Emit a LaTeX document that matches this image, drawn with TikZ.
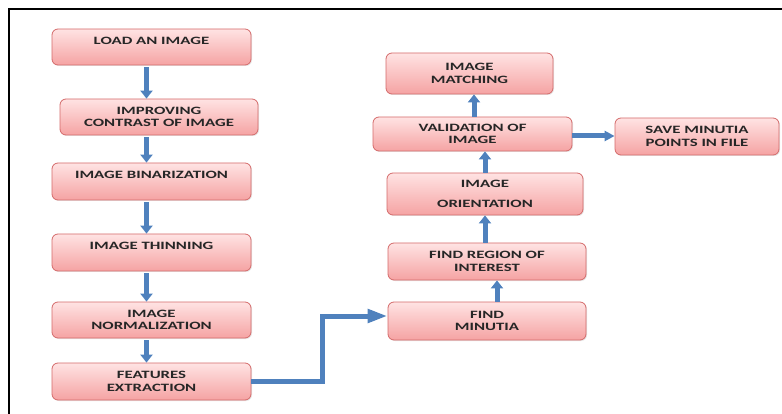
\documentclass[tikz,border=0pt]{standalone}
\usepackage{fontspec}
\newfontfamily\kastenfont[FakeStretch=1.5]{Carlito}
\usepackage{tikz}
\usetikzlibrary{arrows.meta,shadows}

\definecolor{pfeilblau}{HTML}{4F81BD}
\definecolor{kastenrand}{HTML}{D46A6A}
\definecolor{kastenoben}{HTML}{FFE3E3}
\definecolor{kastenunten}{HTML}{F5A3A3}

\tikzset{
  kasten/.style={rectangle, rounded corners=6pt, draw=kastenrand, line width=0.8pt,
    top color=kastenoben, bottom color=kastenunten, align=center,
    font=\kastenfont\bfseries\fontsize{11.2}{12.5}\selectfont, text=black!85,
    inner sep=0pt, drop shadow={opacity=0.2, shadow xshift=1pt, shadow yshift=-1pt}},
  pfeil/.style={draw=pfeilblau, line width=5pt, -{Triangle[width=12pt,length=8pt]}},
}

\begin{document}
\begin{tikzpicture}[x=1pt,y=-1pt]
\useasboundingbox (0,0) rectangle (782,414);
%Rahmen
\draw[line width=2pt] (9,414) -- (9,9) -- (782,9);

%linke Spalte
\node[kasten, minimum width=199pt, minimum height=36pt] (load)    at (151.5,47)  {LOAD AN IMAGE\\~};
\node[kasten, minimum width=198pt, minimum height=36pt] (improv)  at (159,117)   {IMPROVING\\CONTRAST OF IMAGE};
\node[kasten, minimum width=199pt, minimum height=37pt] (binar)   at (151.5,181.5) {IMAGE BINARIZATION\\~};
\node[kasten, minimum width=199pt, minimum height=37pt] (thin)    at (151.5,252.5) {IMAGE THINNING\\~};
\node[kasten, minimum width=199pt, minimum height=36pt] (norm)    at (151.5,320) {IMAGE\\NORMALIZATION};
\node[kasten, minimum width=199pt, minimum height=37pt] (feat)    at (151.5,381.5) {FEATURES\\EXTRACTION};

%rechte Spalte
\node[kasten, minimum width=167pt, minimum height=41pt] (match)   at (469.5,73.5) {IMAGE\\MATCHING};
\node[kasten, minimum width=199pt, minimum height=34pt] (valid)   at (472.5,134) {VALIDATION OF\\IMAGE};
\node[kasten, minimum width=164pt, minimum height=37pt] (save)    at (697,136.5) {SAVE MINUTIA\\POINTS IN FILE};
\node[kasten, minimum width=196pt, minimum height=42pt] (orient)  at (485,194)   {IMAGE\\[7pt]ORIENTATION};
\node[kasten, minimum width=198pt, minimum height=37pt] (region)  at (487,261.5) {FIND REGION OF\\INTEREST};
\node[kasten, minimum width=198pt, minimum height=38pt] (minutia) at (487,321)   {FIND\\MINUTIA};

\coordinate (knick) at (322,316);

%Pfeile links
\foreach \a/\b/\dx in {load/improv/-5, improv/binar/-12.5, binar/thin/-5, thin/norm/-5, norm/feat/-5}
  \draw[pfeil] ([xshift=\dx pt,yshift=-2pt]\a.south) -- ([xshift=\dx pt]\a.south |- \b.north);

\draw[draw=pfeilblau, line width=5pt, -{Triangle[width=13pt,length=20pt]}]
  (feat.east) -| (knick) -- (knick -| minutia.west);

%Pfeile rechts
\draw[pfeil] ([xshift=10pt]minutia.north) -- ([xshift=10pt]minutia.north |- region.south);
\draw[pfeil] ([xshift=-2pt]region.north) -- ([xshift=-2pt]region.north |- orient.south);
\draw[pfeil] (orient.north) -- (orient.north |- valid.south);
\draw[pfeil] ([xshift=1.5pt]valid.north) -- ([xshift=1.5pt]valid.north |- match.south);
\draw[pfeil, -{Triangle[width=10pt,length=10pt]}] ([yshift=-2pt]valid.east) -- ([yshift=-2pt]valid.east -| save.west);
\end{tikzpicture}
\end{document}
